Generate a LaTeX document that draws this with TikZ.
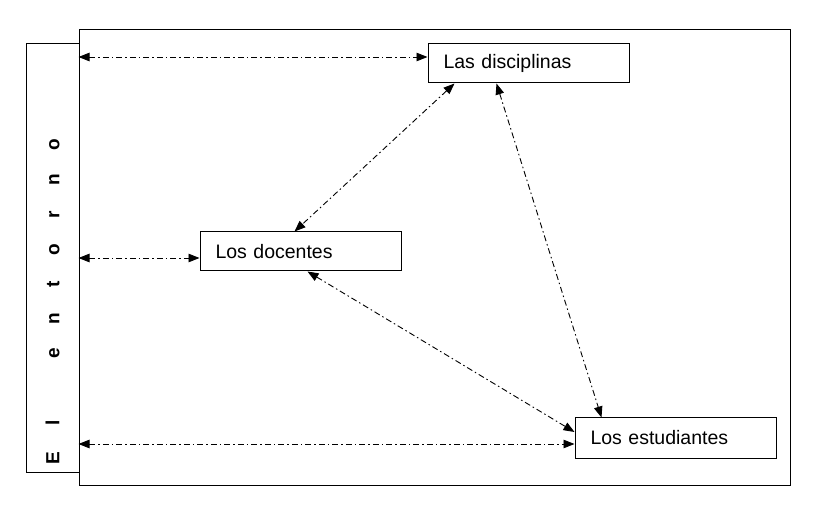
\documentclass[tikz,border=0pt]{standalone}
\usepackage{fontspec}
\setmainfont{Liberation Sans}
\usetikzlibrary{arrows.meta,calc}
\newcommand\lsp[1]{\makebox[34.8pt]{#1}}
\begin{document}
\begin{tikzpicture}[x=1pt,y=-1pt,
  boxnode/.style={draw,line width=1pt,minimum width=201pt,minimum height=39pt,
    text width=170pt,align=left,inner xsep=15.5pt,font=\fontsize{19.5}{22}\selectfont},
  link/.style={line width=0.9pt,dash pattern=on 6pt off 3pt on 1.5pt off 3pt,
    {Triangle[length=11pt,width=8.5pt]}-{Triangle[length=11pt,width=8.5pt]}}]
\useasboundingbox (0,0) rectangle (815,505);
\node[draw,line width=1pt,minimum width=53pt,minimum height=428pt,inner sep=0pt] (envbox) at (52.5,258) {};
\node[draw,line width=1pt,minimum width=711pt,minimum height=455pt,inner sep=0pt] (frame) at (434.5,257.5) {};
\node[rotate=90,inner sep=0pt,font=\bfseries\fontsize{19}{21}\selectfont] (entorno) at (52.5,301.5)
  {\lsp{E}\lsp{l}\lsp{ }\lsp{e}\lsp{n}\lsp{t}\lsp{o}\lsp{r}\lsp{n}\lsp{o}};
\node[boxnode] (disc) at (528.5,63.5) {Las disciplinas};
\node[boxnode] (doc) at (300.5,251.5) {Los docentes};
\node[boxnode,minimum height=40pt] (est) at (675.5,438) {Los estudiantes};
\coordinate (a1) at (frame.west |- 0,57);
\coordinate (a2) at (frame.west |- 0,258);
\coordinate (a3) at (frame.west |- 0,444);
\draw[link] (a1) -- (disc.west |- a1);
\draw[link] (a2) -- (doc.west |- a2);
\draw[link] (a3) -- (est.west |- a3);
\draw[link] ($(disc.south west)+(27,0)$) -- ($(doc.north west)+(95,0)$);
\draw[link] ($(disc.south west)+(69,0)$) -- ($(est.north west)+(27,0)$);
\draw[link] ($(doc.south west)+(108,0)$) -- ($(est.west)+(0,-6)$);
\end{tikzpicture}
\end{document}
